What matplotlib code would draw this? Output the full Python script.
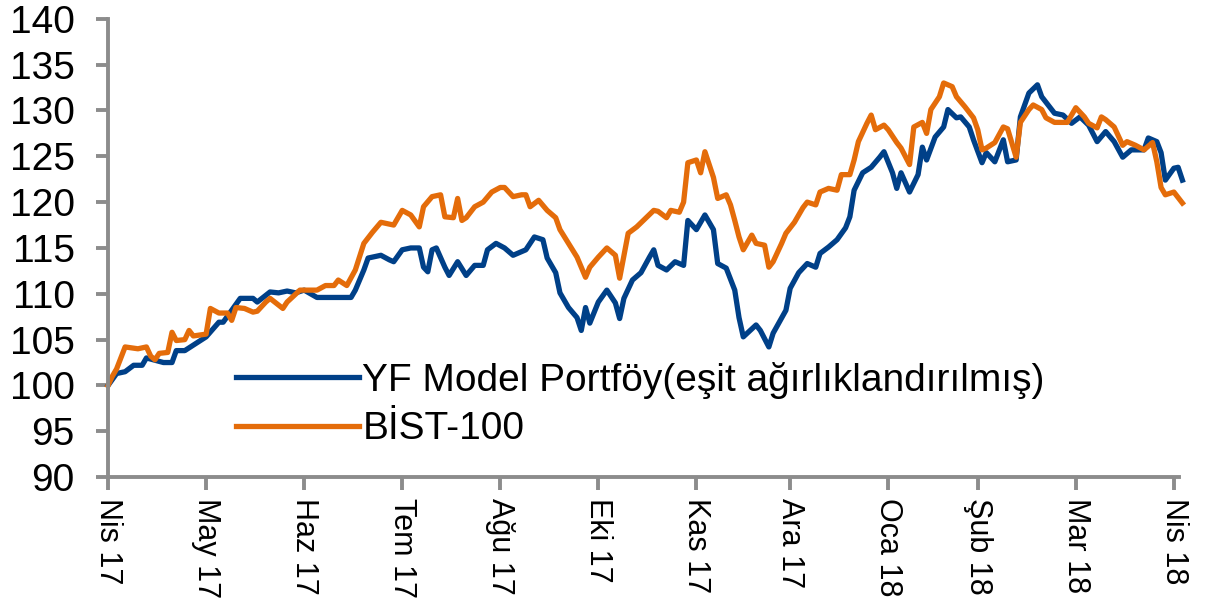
import matplotlib
matplotlib.use("Agg")
import matplotlib.pyplot as plt

# trading-day index (0 = early Apr 2017) and index values
bist_days = [0, 1, 2, 3, 4, 7, 9, 10, 11, 12, 14, 15, 16, 18, 19, 20, 23, 24, 26, 28,
             29, 30, 32, 34, 35, 37, 38, 41, 42, 45, 49, 51, 53, 54, 56, 58, 60, 62, 64, 67,
             69, 71, 73, 74, 76, 78, 79, 81, 82, 83, 84, 86, 88, 90, 92, 93, 95, 97, 98, 99,
             101, 103, 105, 106, 108, 110, 112, 113, 115, 117, 119, 120, 122, 124, 126, 128, 129, 131, 132, 134,
             135, 136, 138, 139, 140, 142, 143, 145, 146, 147, 148, 149, 151, 152, 154, 155, 156, 158, 159, 161,
             163, 164, 166, 167, 169, 171, 172, 174, 175, 176, 178, 179, 180, 182, 183, 185, 186, 188, 189, 191,
             192, 193, 195, 196, 198, 199, 201, 203, 204, 205, 206, 208, 210, 211, 213, 214, 216, 217, 219, 220,
             222, 225, 227, 229, 230, 232, 233, 234, 236, 238, 239, 241, 243, 245, 246, 247, 248, 250, 252]
bist_vals = [100.0, 101.0, 101.8, 103.0, 104.2, 104.0, 104.2, 103.2, 102.8, 103.5, 103.6, 105.8, 104.9, 105.0, 106.0, 105.4, 105.6, 108.4, 107.9, 107.9,
             107.1, 108.5, 108.4, 108.0, 108.1, 109.1, 109.5, 108.4, 109.1, 110.4, 110.4, 110.9, 110.9, 111.5, 110.9, 112.6, 115.5, 116.7, 117.8, 117.5,
             119.1, 118.6, 117.3, 119.5, 120.6, 120.8, 118.4, 118.3, 120.4, 118.0, 118.3, 119.5, 120.0, 121.1, 121.6, 121.6, 120.6, 120.8, 120.8, 119.5,
             120.2, 119.1, 118.3, 117.0, 115.5, 114.0, 111.8, 112.9, 114.0, 115.0, 114.2, 111.7, 116.6, 117.3, 118.2, 119.1, 119.0, 118.3, 119.1, 118.9,
             120.0, 124.3, 124.6, 123.2, 125.5, 122.7, 120.4, 120.8, 119.7, 118.0, 116.2, 114.8, 116.4, 115.5, 115.3, 112.9, 113.5, 115.5, 116.6, 117.8,
             119.4, 120.0, 119.7, 121.1, 121.5, 121.3, 123.0, 123.0, 124.6, 126.6, 128.6, 129.5, 127.9, 128.4, 127.9, 126.5, 125.9, 124.1, 128.2, 128.7,
             127.5, 130.1, 131.5, 133.0, 132.6, 131.5, 130.4, 129.2, 127.9, 125.7, 125.9, 126.5, 128.2, 128.0, 124.9, 128.7, 130.1, 130.6, 130.1, 129.2,
             128.7, 128.7, 130.3, 129.3, 128.6, 128.1, 129.3, 129.0, 128.2, 126.2, 126.6, 126.2, 125.7, 126.5, 124.4, 121.6, 120.8, 121.1, 119.9]

yf_days = [0, 2, 4, 6, 8, 9, 13, 15, 16, 18, 20, 23, 26, 27, 29, 31, 34, 35, 38, 40,
           42, 44, 46, 49, 53, 57, 58, 60, 61, 64, 66, 67, 69, 71, 73, 74, 75, 76, 77, 79,
           80, 82, 84, 86, 88, 89, 91, 93, 95, 98, 100, 102, 103, 105, 106, 108, 110, 111, 112, 113,
           115, 117, 119, 120, 121, 123, 125, 127, 128, 129, 131, 133, 135, 136, 138, 140, 142, 143, 145, 147,
           148, 149, 152, 153, 155, 156, 159, 160, 162, 164, 166, 167, 169, 171, 173, 174, 175, 177, 179, 181,
           182, 184, 185, 186, 188, 190, 191, 192, 194, 196, 197, 199, 200, 202, 203, 205, 206, 208, 210, 211,
           213, 214, 216, 218, 219, 222, 224, 226, 228, 230, 232, 234, 236, 238, 240, 243, 244, 246, 247, 248,
           250, 251, 252]
yf_vals = [100.0, 101.3, 101.5, 102.2, 102.2, 103.0, 102.5, 102.5, 103.8, 103.8, 104.4, 105.3, 106.9, 106.9, 108.2, 109.5, 109.5, 109.1, 110.2, 110.1,
           110.3, 110.1, 110.4, 109.6, 109.6, 109.6, 110.4, 112.6, 113.9, 114.2, 113.7, 113.5, 114.8, 115.0, 115.0, 112.9, 112.4, 114.8, 115.0, 112.9,
           112.0, 113.5, 112.0, 113.1, 113.1, 114.8, 115.5, 115.0, 114.2, 114.8, 116.2, 115.9, 113.9, 112.3, 110.1, 108.5, 107.4, 106.0, 108.5, 106.8,
           109.1, 110.4, 109.0, 107.3, 109.5, 111.5, 112.3, 114.0, 114.8, 113.1, 112.6, 113.5, 113.1, 118.0, 117.0, 118.6, 117.0, 113.3, 112.8, 110.4,
           107.4, 105.3, 106.6, 106.0, 104.2, 105.7, 108.2, 110.6, 112.3, 113.3, 112.9, 114.4, 115.1, 115.9, 117.2, 118.4, 121.3, 123.2, 123.8, 124.9,
           125.5, 123.2, 121.5, 123.2, 121.1, 123.0, 126.0, 124.6, 127.1, 128.2, 130.1, 129.2, 129.3, 128.2, 126.8, 124.3, 125.4, 124.4, 126.8, 124.4,
           124.6, 129.3, 131.9, 132.8, 131.5, 129.7, 129.5, 128.6, 129.3, 128.4, 126.6, 127.7, 126.6, 124.9, 125.7, 125.7, 127.0, 126.6, 125.4, 122.4,
           123.7, 123.8, 122.4]

tick_days = [0, 23, 46, 69, 92, 115, 138, 160, 183, 204, 227, 250]
tick_labels = ['Nis 17', 'May 17', 'Haz 17', 'Tem 17', 'Ağu 17', 'Eki 17',
               'Kas 17', 'Ara 17', 'Oca 18', 'Şub 18', 'Mar 18', 'Nis 18']
y_ticks = [90, 95, 100, 105, 110, 115, 120, 125, 130, 135, 140]

plt.rcParams['font.family'] = ['Liberation Sans', 'DejaVu Sans']

fig = plt.figure(figsize=(12.06, 6.07), dpi=100)
ax = fig.add_axes([0.0896, 0.214, 0.888, 0.755])

grey = '#8c8c8c'
ax.plot(yf_days, yf_vals, color='#004088', lw=3.8, clip_on=False,
        label='YF Model Portföy(eşit ağırlıklandırılmış)')
ax.plot(bist_days, bist_vals, color='#e46c0a', lw=3.8, clip_on=False,
        label='BİST-100')

ax.set_xlim(0, 251.2)
ax.set_ylim(90, 140)
ax.set_yticks(y_ticks)
ax.set_xticks(tick_days)
ax.set_xticklabels(tick_labels, rotation=-90, ha='center', va='top', fontsize=22)

for side in ['top', 'right']:
    ax.spines[side].set_visible(False)
for side in ['left', 'bottom']:
    ax.spines[side].set_color(grey)
    ax.spines[side].set_linewidth(2.8)

ax.tick_params(axis='both', colors=grey, labelcolor='black', length=9,
               width=2.8, direction='out')
ax.tick_params(axis='y', pad=15, labelsize=28)
ax.tick_params(axis='x', pad=6)

ax.legend(loc='center left', bbox_to_anchor=(0.1195, 0.158), frameon=False,
          fontsize=28, handlelength=3.15, handletextpad=0.1, labelspacing=0.32,
          borderpad=0, borderaxespad=0)

fig.savefig('out.png', dpi=100)
